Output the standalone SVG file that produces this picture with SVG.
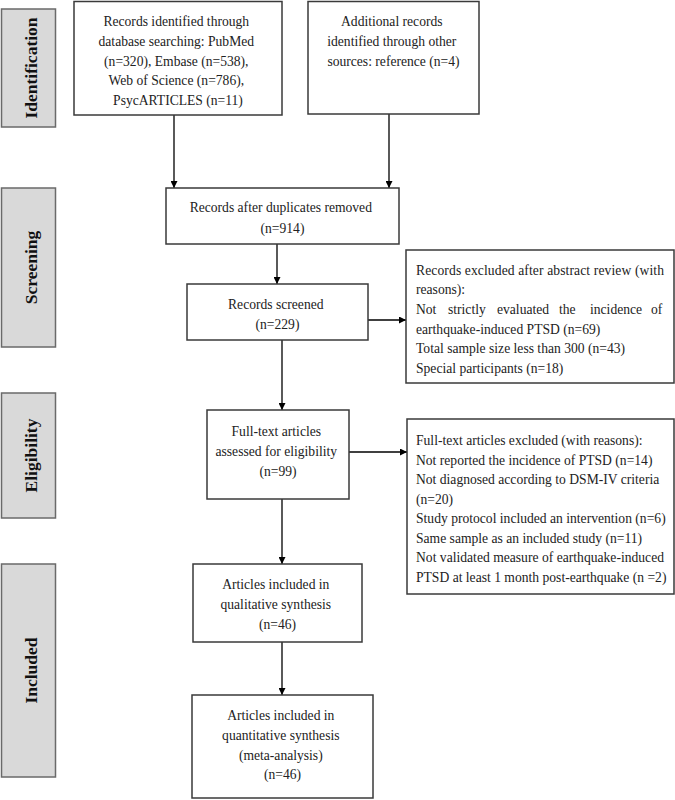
<svg xmlns="http://www.w3.org/2000/svg" width="675" height="800" viewBox="0 0 675 800">
<defs>
<marker id="ah" viewBox="0 0 10 10" refX="10" refY="5" markerWidth="7" markerHeight="7" markerUnits="userSpaceOnUse" orient="auto">
<path d="M0,0 L10,5 L0,10 z" fill="#000"/>
</marker>
<style>
.box{fill:#fff;stroke:#3a3a3a;stroke-width:1.5}
.side{fill:#d9d9d9;stroke:#6a6a6a;stroke-width:1.5}
.t{font-family:"Liberation Serif","Times New Roman",serif;font-size:13.6px;fill:#222}
.c{text-anchor:middle}
.s{font-family:"Liberation Serif","Times New Roman",serif;font-size:17.5px;font-weight:bold;fill:#111;text-anchor:middle}
.ln{stroke:#000;stroke-width:1.3;fill:none;marker-end:url(#ah)}
</style>
</defs>
<rect width="675" height="800" fill="#fff"/>

<g id="side-identification">
<rect class="side" x="1.5" y="9" width="54" height="118"/>
<text class="s" transform="translate(37,68) rotate(-90)">Identification</text>
</g>
<g id="side-screening">
<rect class="side" x="1.5" y="188" width="54" height="159"/>
<text class="s" transform="translate(37,267.5) rotate(-90)">Screening</text>
</g>
<g id="side-eligibility">
<rect class="side" x="1.5" y="393" width="54" height="125"/>
<text class="s" transform="translate(37,455.5) rotate(-90)">Eligibility</text>
</g>
<g id="side-included">
<rect class="side" x="1.5" y="564" width="54" height="213"/>
<text class="s" transform="translate(37,670.5) rotate(-90)">Included</text>
</g>

<g id="connectors">
<path class="ln" d="M174,115 V188"/>
<path class="ln" d="M389,114 V188"/>
<path class="ln" d="M277,244 V284"/>
<path class="ln" d="M368,320 H406"/>
<path class="ln" d="M282,340 V410"/>
<path class="ln" d="M349,452 H407"/>
<path class="ln" d="M282,499 V564"/>
<path class="ln" d="M282,642 V695"/>
</g>

<g id="n-database">
<rect class="box" x="74" y="1.5" width="208" height="113.5"/>
<text class="t c">
<tspan x="178" y="26">Records identified through</tspan>
<tspan x="178" y="46">database searching: PubMed</tspan>
<tspan x="178" y="65.5">(n=320), Embase (n=538),</tspan>
<tspan x="178" y="85">Web of Science (n=786),</tspan>
<tspan x="178" y="105">PsycARTICLES (n=11)</tspan>
</text>
</g>

<g id="n-other">
<rect class="box" x="308" y="1.5" width="171" height="112.5"/>
<text class="t c">
<tspan x="393.5" y="26">Additional records</tspan>
<tspan x="393.5" y="46">identified through other</tspan>
<tspan x="393.5" y="66">sources: reference (n=4)</tspan>
</text>
</g>

<g id="n-duplicates">
<rect class="box" x="166" y="188" width="233" height="56"/>
<text class="t c">
<tspan x="282.5" y="212">Records after duplicates removed</tspan>
<tspan x="282.5" y="233">(n=914)</tspan>
</text>
</g>

<g id="n-screened">
<rect class="box" x="187" y="284" width="181" height="56"/>
<text class="t c">
<tspan x="277.5" y="309">Records screened</tspan>
<tspan x="277.5" y="329">(n=229)</tspan>
</text>
</g>

<g id="n-excluded1">
<rect class="box" x="406" y="250" width="268" height="133"/>
<text class="t">
<tspan x="416" y="275" textLength="248" lengthAdjust="spacing">Records excluded after abstract review (with</tspan>
<tspan x="416" y="294">reasons):</tspan>
<tspan x="416" y="314">Not</tspan><tspan x="448" y="314">strictly</tspan><tspan x="497" y="314">evaluated</tspan><tspan x="559" y="314">the</tspan><tspan x="590" y="314">incidence</tspan><tspan x="651" y="314">of</tspan>
<tspan x="416" y="334">earthquake-induced PTSD (n=69)</tspan>
<tspan x="416" y="353">Total sample size less than 300 (n=43)</tspan>
<tspan x="416" y="373">Special participants (n=18)</tspan>
</text>
</g>

<g id="n-fulltext">
<rect class="box" x="207" y="410" width="142" height="89"/>
<text class="t c">
<tspan x="278" y="436">Full-text articles</tspan>
<tspan x="278" y="456">assessed for eligibility</tspan>
<tspan x="278" y="476">(n=99)</tspan>
</text>
</g>

<g id="n-excluded2">
<rect class="box" x="407" y="419" width="267" height="175"/>
<text class="t">
<tspan x="416" y="445">Full-text articles excluded (with reasons):</tspan>
<tspan x="416" y="464.5">Not reported the incidence of PTSD (n=14)</tspan>
<tspan x="416" y="484">Not diagnosed according to DSM-IV criteria</tspan>
<tspan x="416" y="503.5">(n=20)</tspan>
<tspan x="416" y="523">Study protocol included an intervention (n=6)</tspan>
<tspan x="416" y="542.5">Same sample as an included study (n=11)</tspan>
<tspan x="416" y="562" textLength="248" lengthAdjust="spacing">Not validated measure of earthquake-induced</tspan>
<tspan x="416" y="581.5">PTSD at least 1 month post-earthquake (n =2)</tspan>
</text>
</g>

<g id="n-qualitative">
<rect class="box" x="193" y="564" width="169" height="78"/>
<text class="t c">
<tspan x="277.5" y="589">Articles included in</tspan>
<tspan x="277.5" y="609">qualitative synthesis</tspan>
<tspan x="277.5" y="629">(n=46)</tspan>
</text>
</g>

<g id="n-quantitative">
<rect class="box" x="192" y="695" width="181" height="103"/>
<text class="t c">
<tspan x="282.5" y="720">Articles included in</tspan>
<tspan x="282.5" y="740">quantitative synthesis</tspan>
<tspan x="282.5" y="760">(meta-analysis)</tspan>
<tspan x="282.5" y="779">(n=46)</tspan>
</text>
</g>
</svg>
